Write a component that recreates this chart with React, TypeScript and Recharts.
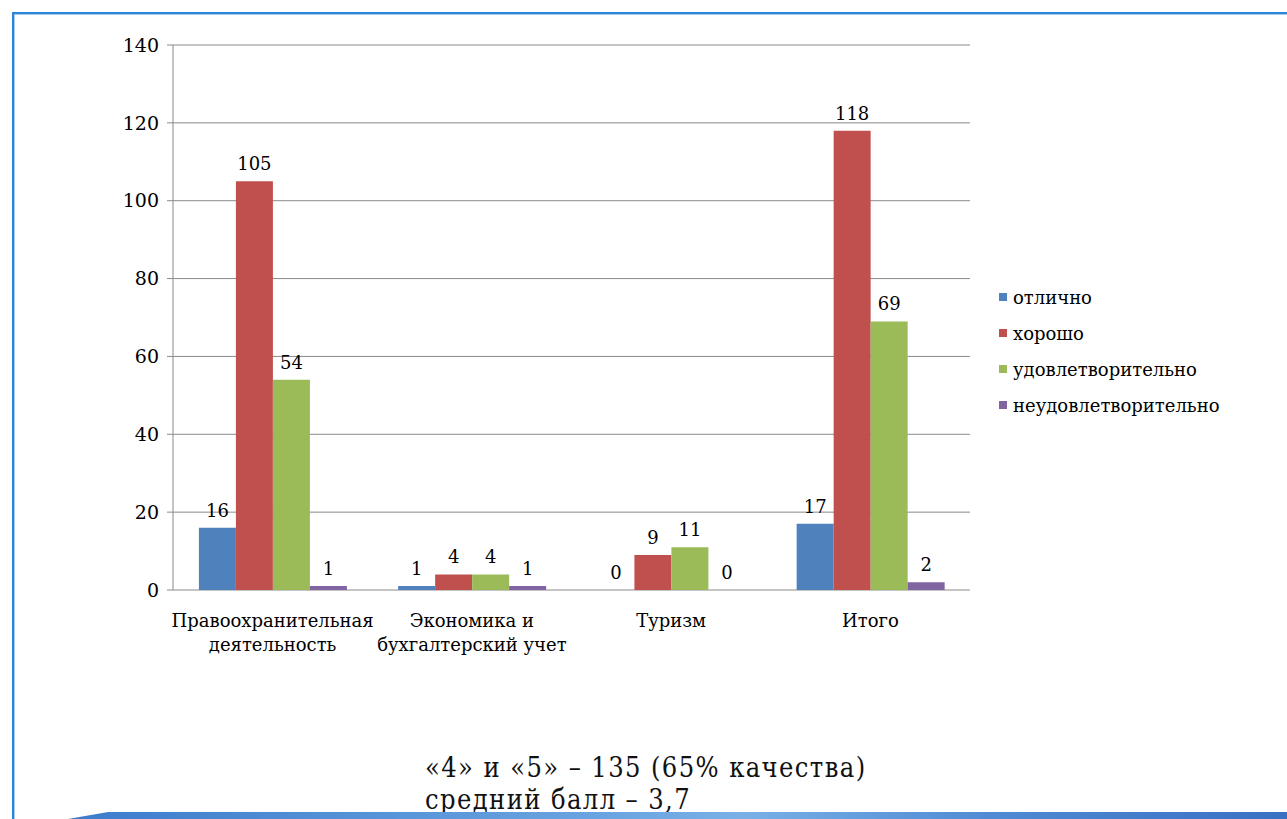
import React from 'react'
import { BarChart, Bar, XAxis, YAxis, CartesianGrid, LabelList } from 'recharts'

const categories = ['Правоохранительная\nдеятельность', 'Экономика и\nбухгалтерский учет', 'Туризм', 'Итого']
const seriesNames = ['отлично', 'хорошо', 'удовлетворительно', 'неудовлетворительно']
const excellent = [16, 1, 0, 17]
const good = [105, 4, 9, 118]
const satisfactory = [54, 4, 11, 69]
const unsatisfactory = [1, 1, 0, 2]
const yTicks = [0, 20, 40, 60, 80, 100, 120, 140]
const edgeTicks = [0, 1, 2, 3, 4]
const colors = ['#4F81BD', '#C0504D', '#9BBB59', '#8064A2']

const keys = ['s0', 's1', 's2', 's3']
const data = categories.map((c, i) => ({
  name: c,
  s0: excellent[i],
  s1: good[i],
  s2: satisfactory[i],
  s3: unsatisfactory[i],
}))

const serif = '"DejaVu Serif", serif'
const serifNarrow = '"DejaVu Serif Condensed", "DejaVu Serif", serif'
const grey = '#8a8a8a'

function CatTick(props: any) {
  const { x, y, payload } = props
  const lines = String(payload.value).split('\n')
  return (
    <text x={x} y={y} textAnchor="middle" fontSize={18} fontFamily={serif} fill="#000">
      {lines.map((l, i) => (
        <tspan key={i} x={x} dy={i === 0 ? 37 : 24}>{l}</tspan>
      ))}
    </text>
  )
}

export default function App() {
  return (
    <div style={{ position: 'absolute', left: 0, top: 0, width: 1287, height: 819, overflow: 'hidden', background: '#fff' }}>
      {/* slide frame */}
      <div style={{ position: 'absolute', left: 12, top: 12, width: 1400, height: 900, borderLeft: '2px solid #2b86d8', borderTop: '2px solid #2b86d8', boxShadow: 'inset 1px 1px 0 #a9cdee' }} />

      <div style={{ position: 'absolute', left: 0, top: 0 }}>
        <BarChart width={1000} height={680} data={data} margin={{ top: 45, left: 113, right: 30, bottom: 20 }}
          barCategoryGap="13%" barGap={0}>
          <CartesianGrid xAxisId="cat" vertical={false} stroke={grey} />
          <XAxis xAxisId="edge" type="number" domain={[0, 4]} ticks={edgeTicks} allowDataOverflow
            tick={false} tickSize={6} height={0} stroke={grey} />
          <XAxis xAxisId="cat" dataKey="name" axisLine={false} tickLine={false} tickSize={0} tickMargin={0}
            height={70} interval={0} tick={<CatTick />} />
          <YAxis domain={[0, 140]} ticks={yTicks} width={60} tickSize={6} tickMargin={8} stroke={grey}
            tick={{ fontSize: 19, fontFamily: serif, fill: '#000' }} />
          {keys.map((k, i) => (
            <Bar key={k} xAxisId="cat" dataKey={k} name={seriesNames[i]} fill={colors[i]} minPointSize={0.01}
              isAnimationActive={false}>
              <LabelList dataKey={k} position="top" offset={11} fontSize={18} fontFamily={serif} fill="#000" />
            </Bar>
          ))}
        </BarChart>
      </div>

      {/* legend */}
      <div style={{ position: 'absolute', left: 999, top: 279, fontFamily: serif, fontSize: 18, color: '#000' }}>
        {seriesNames.map((n, i) => (
          <div key={n} style={{ display: 'flex', alignItems: 'center', height: 36 }}>
            <span style={{ width: 8, height: 8, background: colors[i], marginRight: 6, display: 'inline-block' }} />
            <span>{n}</span>
          </div>
        ))}
      </div>

      {/* summary text */}
      <div style={{ position: 'absolute', left: 425, top: 752, fontFamily: serifNarrow, fontStretch: 'condensed', fontSize: 27, letterSpacing: '1.4px', lineHeight: '32px', color: '#111', whiteSpace: 'nowrap' }}>
        <div>«4» и «5» – 135 (65% качества)</div>
        <div>средний балл – 3,7</div>
      </div>

      {/* bottom band */}
      <div style={{ position: 'absolute', left: 68, top: 812, width: 1230, height: 7,
        background: 'linear-gradient(90deg, #3d7ccc 0%, #5b97da 30%, #78b0e6 55%, #4f8ad4 75%, #3a6fc2 100%)',
        clipPath: 'polygon(40px 0, 100% 0, 100% 100%, 0 100%)' }} />
    </div>
  )
}
